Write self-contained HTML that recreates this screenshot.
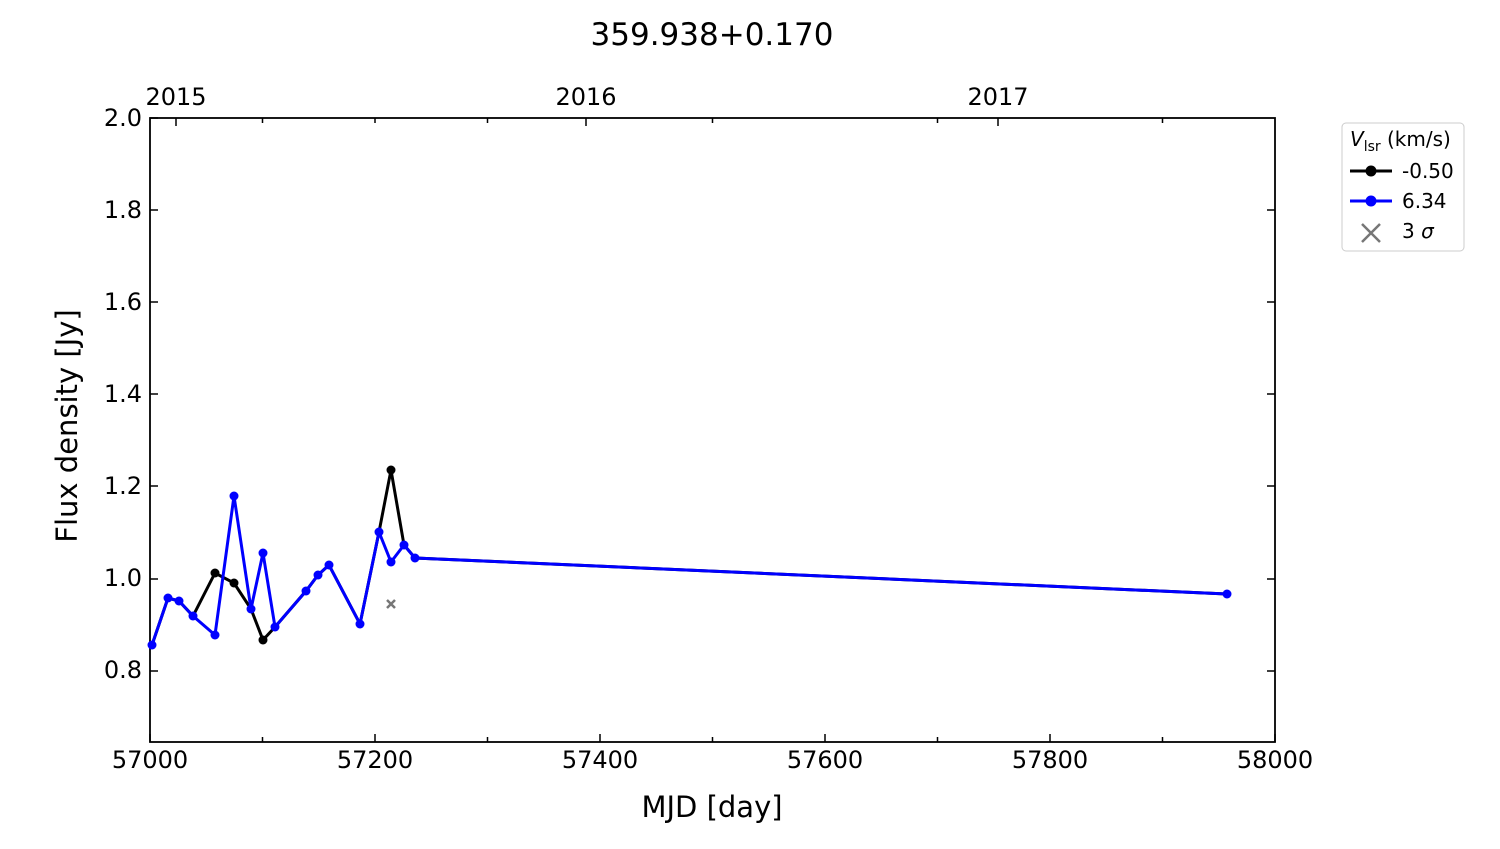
<!DOCTYPE html><html><head><style>body{margin:0;background:#fff}svg{font-family:"DejaVu Sans","Liberation Sans",sans-serif}</style></head><body>
<svg width="1500" height="844" xmlns="http://www.w3.org/2000/svg">
<text x="712" y="45" font-size="31" text-anchor="middle">359.938+0.170</text>
<g font-size="24" text-anchor="middle">
<text x="176" y="105">2015</text><text x="586" y="105">2016</text><text x="998" y="105">2017</text>
<text x="150" y="768">57000</text><text x="375" y="768">57200</text><text x="600" y="768">57400</text><text x="825" y="768">57600</text><text x="1050" y="768">57800</text><text x="1275" y="768">58000</text>
</g>
<g font-size="24" text-anchor="end">
<text x="142" y="126">2.0</text><text x="142" y="218">1.8</text><text x="142" y="310">1.6</text><text x="142" y="402">1.4</text><text x="142" y="494">1.2</text><text x="142" y="586">1.0</text><text x="142" y="678">0.8</text>
</g>
<text x="712" y="817" font-size="29" text-anchor="middle">MJD [day]</text>
<text transform="translate(77,426) rotate(-90)" font-size="29" text-anchor="middle">Flux density [Jy]</text>
<g stroke="#000" stroke-width="1.5">
<path d="M150,742v-8M262.5,742v-5M375,742v-8M487.5,742v-5M600,742v-8M712.5,742v-5M825,742v-8M937.5,742v-5M1050,742v-8M1162.5,742v-5M1275,742v-8"/>
<path d="M176,118v8M586,118v8M998,118v8M262.5,118v5M375,118v5M487.5,118v5M712.5,118v5M937.5,118v5M1162.5,118v5"/>
<path d="M150,118h8M150,210h8M150,302h8M150,394h8M150,486h8M150,579h8M150,671h8M1275,210h-8M1275,302h-8M1275,394h-8M1275,486h-8M1275,579h-8M1275,671h-8"/>
</g>
<rect x="150" y="118" width="1125" height="624" fill="none" stroke="#000" stroke-width="1.8"/>
<polyline fill="none" stroke="#000" stroke-width="3" points="152,645 168,598 179,601 193,616 215,573 234,583 251,609 263,640 275,627 306,591 318,575 329,565 360,624 379,532 391,470 404,545 415,558 1227,594"/>
<g fill="#000"><circle cx="215" cy="573" r="4.5"/><circle cx="234" cy="583" r="4.5"/><circle cx="263" cy="640" r="4.5"/><circle cx="391" cy="470" r="4.5"/></g>
<polyline fill="none" stroke="#0000ff" stroke-width="3" points="152,645 168,598 179,601 193,616 215,635 234,496 251,609 263,553 275,627 306,591 318,575 329,565 360,624 379,532 391,562 404,545 415,558 1227,594"/>
<g fill="#0000ff"><circle cx="152" cy="645" r="4.5"/><circle cx="168" cy="598" r="4.5"/><circle cx="179" cy="601" r="4.5"/><circle cx="193" cy="616" r="4.5"/><circle cx="215" cy="635" r="4.5"/><circle cx="234" cy="496" r="4.5"/><circle cx="251" cy="609" r="4.5"/><circle cx="263" cy="553" r="4.5"/><circle cx="275" cy="627" r="4.5"/><circle cx="306" cy="591" r="4.5"/><circle cx="318" cy="575" r="4.5"/><circle cx="329" cy="565" r="4.5"/><circle cx="360" cy="624" r="4.5"/><circle cx="379" cy="532" r="4.5"/><circle cx="391" cy="562" r="4.5"/><circle cx="404" cy="545" r="4.5"/><circle cx="415" cy="558" r="4.5"/><circle cx="1227" cy="594" r="4.5"/></g>
<path d="M387,600l8,8M395,600l-8,8" stroke="#777" stroke-width="2.5"/>
<rect x="1342" y="123" width="122" height="128" rx="4" fill="#fff" stroke="#ccc"/>
<text x="1350" y="146" font-size="20"><tspan font-style="italic">V</tspan><tspan font-size="14" dy="5">lsr</tspan><tspan dy="-5"> (km/s)</tspan></text>
<line x1="1350" y1="171" x2="1392" y2="171" stroke="#000" stroke-width="3"/><circle cx="1371" cy="171" r="5.5"/>
<text x="1402" y="178" font-size="20">-0.50</text>
<line x1="1350" y1="201" x2="1392" y2="201" stroke="#0000ff" stroke-width="3"/><circle cx="1371" cy="201" r="5.5" fill="#0000ff"/>
<text x="1402" y="208" font-size="20">6.34</text>
<path d="M1362,224l18,18M1380,224l-18,18" stroke="#777" stroke-width="2.5"/>
<text x="1402" y="238" font-size="20">3 <tspan font-style="italic">σ</tspan></text>
</svg></body></html>
